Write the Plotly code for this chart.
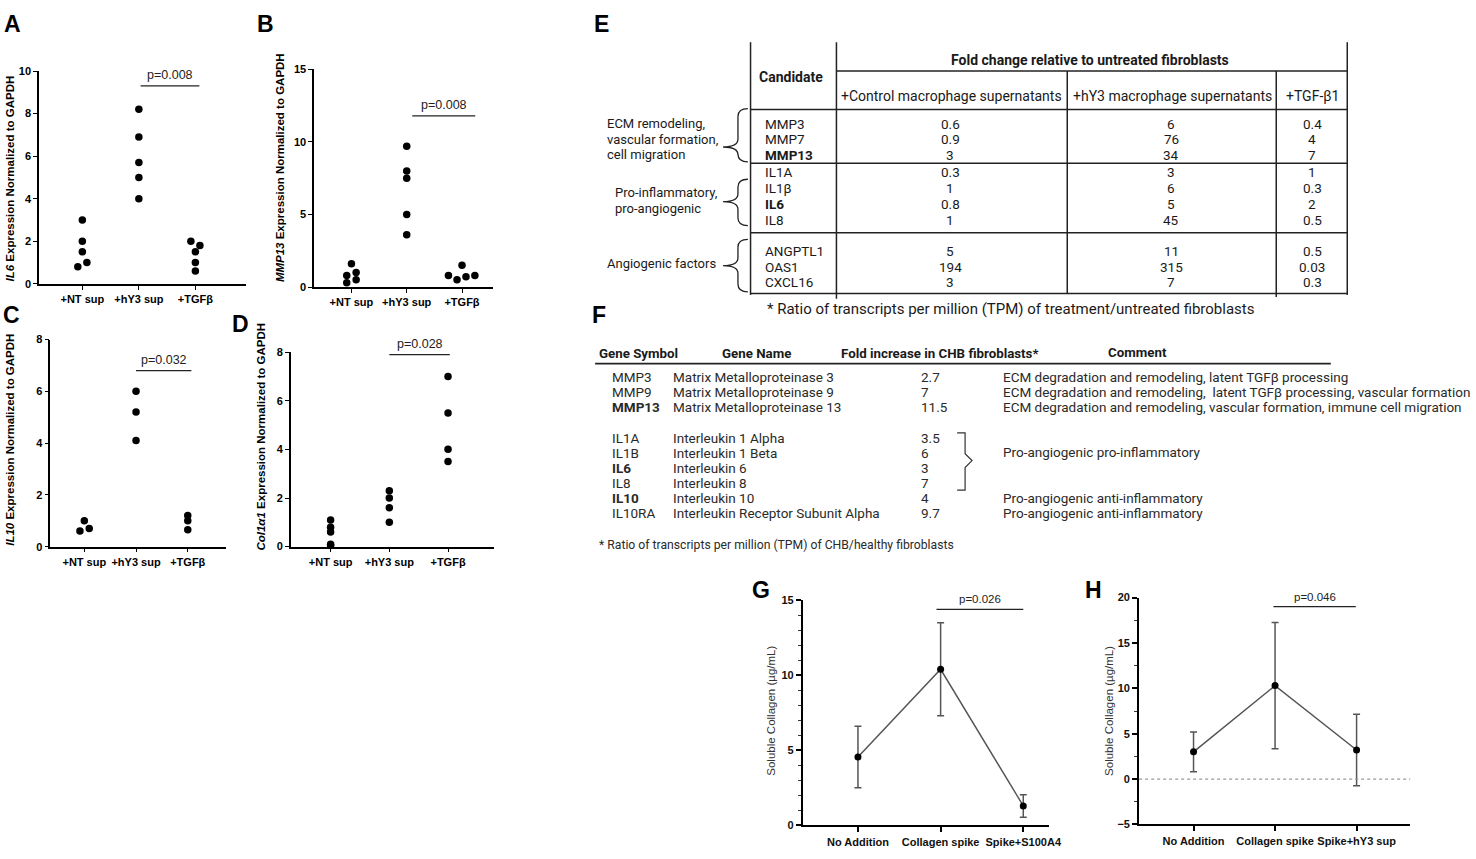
import plotly.graph_objects as go

W, H = 1476, 859

# ---------------- data ----------------
cats_expr = ["+NT sup", "+hY3 sup", "+TGFβ"]

il6_nt = [3.0, 2.0, 1.5, 1.0, 0.8]
il6_hy3 = [8.2, 6.9, 5.7, 5.0, 4.0]
il6_tgf = [2.0, 1.8, 1.5, 1.0, 0.6]

mmp13_nt = [1.6, 1.0, 0.8, 0.5, 0.3]
mmp13_hy3 = [9.7, 8.0, 7.5, 5.0, 3.6]
mmp13_tgf = [0.8, 0.5, 1.5, 0.7, 0.8]

il10_nt = [1.0, 0.6, 0.7]
il10_hy3 = [6.0, 5.2, 4.1]
il10_tgf = [1.2, 1.0, 0.65]

col_nt = [1.1, 0.8, 0.6, 0.1, 0.05]
col_hy3 = [2.3, 2.0, 1.6, 1.0]
col_tgf = [7.0, 5.5, 4.0, 3.5]

p_values = ["p=0.008", "p=0.008", "p=0.032", "p=0.028", "p=0.026", "p=0.046"]

cats_g = ["No Addition", "Collagen spike", "Spike+S100A4"]
g_mean = [4.55, 10.4, 1.3]
g_sd = [2.05, 3.1, 0.75]

cats_h = ["No Addition", "Collagen spike", "Spike+hY3 sup"]
h_mean = [3.0, 10.3, 3.2]
h_sd = [2.2, 6.95, 3.95]

e_candidates = ["MMP3", "MMP7", "MMP13", "IL1A", "IL1β", "IL6", "IL8", "ANGPTL1", "OAS1", "CXCL16"]
e_control = [0.6, 0.9, 3, 0.3, 1, 0.8, 1, 5, 194, 3]
e_hy3 = [6, 76, 34, 3, 6, 5, 45, 11, 315, 7]
e_tgf = [0.4, 4, 7, 1, 0.3, 2, 0.5, 0.5, 0.03, 0.3]
e_bold = ["MMP13", "IL6"]
e_headers = ["+Control macrophage supernatants", "+hY3 macrophage supernatants", "+TGF-β1"]

f_symbols = ["MMP3", "MMP9", "MMP13", "IL1A", "IL1B", "IL6", "IL8", "IL10", "IL10RA"]
f_names = ["Matrix Metalloproteinase 3", "Matrix Metalloproteinase 9", "Matrix Metalloproteinase 13",
           "Interleukin 1 Alpha", "Interleukin 1 Beta", "Interleukin 6", "Interleukin 8",
           "Interleukin 10", "Interleukin Receptor Subunit Alpha"]
f_fold = [2.7, 7, 11.5, 3.5, 6, 3, 7, 4, 9.7]
f_comments = ["ECM degradation and remodeling, latent TGFβ processing",
              "ECM degradation and remodeling,  latent TGFβ processing, vascular formation",
              "ECM degradation and remodeling, vascular formation, immune cell migration",
              "", "", "", "",
              "Pro-angiogenic anti-inflammatory", "Pro-angiogenic anti-inflammatory"]
f_group_comment = "Pro-angiogenic pro-inflammatory"
f_bold = ["MMP13", "IL6", "IL10"]

# ---------------- helpers ----------------
def px(x):
    return x / W

def py(y):
    return 1 - y / H

ARIAL = "Liberation Sans, Arial, sans-serif"
ROBOTO = "Roboto, sans-serif"

fig = go.Figure()
annotations = []
shapes = []

def text(x, y, s, size=12, family=ROBOTO, color="#1a1a1a", xanchor="left", weight="normal", angle=0):
    annotations.append(dict(x=px(x), y=py(y), xref="paper", yref="paper", text=s, showarrow=False,
                            xanchor=xanchor, yanchor="middle", textangle=angle,
                            font=dict(size=size, family=family, color=color, weight=weight)))

def pline(x0, y0, x1, y1, color="#222", width=1.5, dash="solid"):
    shapes.append(dict(type="line", xref="paper", yref="paper", x0=px(x0), y0=py(y0), x1=px(x1), y1=py(y1),
                       line=dict(color=color, width=width, dash=dash)))

# ---------------- scatter panels A-D ----------------
panels = [
    ("", [39.3, 248], [66, 281.7], [-0.767, 2.895], [0, 10], 2),
    ("2", [316.7, 497], [64.3, 285], [-0.675, 2.56], [0, 15], 5),
    ("3", [50.7, 228.3], [338.3, 548.3], [-0.658, 2.748], [0, 8], 2),
    ("4", [293.3, 498.3], [351, 548.3], [-0.676, 2.787], [0, 8], 2),
]
groups = [
    [il6_nt, il6_hy3, il6_tgf],
    [mmp13_nt, mmp13_hy3, mmp13_tgf],
    [il10_nt, il10_hy3, il10_tgf],
    [col_nt, col_hy3, col_tgf],
]
# horizontal jitter (style only)
jitters = [
    [[0, 0, 0, 0.08, -0.08], [0] * 5, [-0.08, 0.08, 0, 0, 0]],
    [[0, 0.085, -0.085, 0.085, -0.085], [0] * 5, [-0.245, -0.09, 0, 0.072, 0.233]],
    [[0, -0.085, 0.095], [0] * 3, [0, 0, 0]],
    [[0, 0, 0, 0, 0], [0] * 4, [0] * 4],
]
layout_axes = {}
for (sid, xd, yd, xr, yr, dt), grp, jit in zip(panels, groups, jitters):
    for ci, (vals, jj) in enumerate(zip(grp, jit)):
        fig.add_trace(go.Scatter(x=[ci + j for j in jj], y=vals, mode="markers",
                                 marker=dict(color="black", size=7.5), cliponaxis=False,
                                 xaxis="x" + sid, yaxis="y" + sid, showlegend=False, hoverinfo="skip"))
    layout_axes["xaxis" + sid] = dict(domain=[px(xd[0]), px(xd[1])], range=xr, anchor="y" + sid,
                                      tickvals=[0, 1, 2], ticktext=cats_expr, showline=True, linecolor="black",
                                      linewidth=1.5, ticks="outside", ticklen=4, tickwidth=1.2, tickcolor="black",
                                      showgrid=False, zeroline=False, fixedrange=True,
                                      tickfont=dict(family=ARIAL, size=11, color="black", weight="bold"))
    layout_axes["yaxis" + sid] = dict(domain=[py(yd[1]), py(yd[0])], range=yr, anchor="x" + sid,
                                      dtick=dt, showline=True, linecolor="black", linewidth=1.5,
                                      ticks="outside", ticklen=4, tickwidth=1.2, tickcolor="black",
                                      showgrid=False, zeroline=False, fixedrange=True,
                                      tickfont=dict(family=ARIAL, size=11, color="black", weight="bold"))

# p-value lines (in category/data units)
p_lines = [("", 1.03, 2.07, 9.3), ("2", 1.10, 2.24, 11.8), ("3", 1.0, 2.07, 6.8), ("4", 1.0, 2.03, 7.9),
           ("5", 0.95, 2.0, 14.4), ("6", 0.98, 1.99, 19.0)]
for (sid, x0, x1, yv), pv in zip(p_lines, p_values):
    shapes.append(dict(type="line", xref="x" + sid, yref="y" + sid, x0=x0, x1=x1, y0=yv, y1=yv,
                       line=dict(color="#222", width=1.2)))
    annotations.append(dict(x=(x0 + x1) / 2, y=yv, xref="x" + sid, yref="y" + sid, text=pv,
                            showarrow=False, yanchor="bottom", yshift=2,
                            font=dict(family=ARIAL, size=12.5 if sid in ("", "2", "3", "4") else 11.5,
                                      color="#222")))

# y titles A-D
for tx, ty, gene in [(10, 175, "IL6"), (281.7, 164, "MMP13"), (10, 440, "IL10"), (263.3, 436.5, "Col1α1")]:
    text(tx, ty, f"<i>{gene}</i> Expression Normalized to GAPDH", size=11.5, family=ARIAL, color="black",
         xanchor="center", weight="bold", angle=-90)

# ---------------- line panels G, H ----------------
gh = [
    ("5", [809.5, 1058], [602.7, 831], [-0.666, 2.316], [0, 15], 5, 1, cats_g, g_mean, g_sd),
    ("6", [1148.5, 1421.7], [600, 830], [-0.667, 2.657], [-5, 20], 5, 2.5, cats_h, h_mean, h_sd),
]
for sid, xd, yd, xr, yr, dt, mdt, cats, mean, sd in gh:
    fig.add_trace(go.Scatter(x=[0, 1, 2], y=mean, mode="lines+markers",
                             line=dict(color="#555", width=1.5),
                             marker=dict(color="black", size=7),
                             error_y=dict(type="data", array=sd, color="#555", thickness=1.5, width=3.5),
                             cliponaxis=False, xaxis="x" + sid, yaxis="y" + sid, showlegend=False,
                             hoverinfo="skip"))
    layout_axes["xaxis" + sid] = dict(domain=[px(xd[0]), px(xd[1])], range=xr, anchor="y" + sid,
                                      tickvals=[0, 1, 2], ticktext=cats, showline=True, linecolor="black",
                                      linewidth=2, ticks="outside", ticklen=5, tickwidth=1.5, tickcolor="black",
                                      showgrid=False, zeroline=False, fixedrange=True,
                                      tickfont=dict(family=ARIAL, size=11, color="#111", weight="bold"))
    layout_axes["yaxis" + sid] = dict(domain=[py(yd[1]), py(yd[0])], range=yr, anchor="x" + sid,
                                      dtick=dt, showline=True, linecolor="black", linewidth=2,
                                      ticks="outside", ticklen=5, tickwidth=1.5, tickcolor="black",
                                      minor=dict(dtick=mdt, ticks="outside", ticklen=3, tickwidth=1,
                                                 tickcolor="#333"),
                                      showgrid=False, zeroline=False, fixedrange=True,
                                      tickfont=dict(family=ARIAL, size=11, color="#111", weight="bold"))

shapes.append(dict(type="line", xref="x6 domain", yref="y6", x0=0, x1=1, y0=0, y1=0,
                   line=dict(color="#999", width=1.3, dash="dot")))
text(777, 715, "Soluble Collagen (µg/mL)", size=11.5, family=ARIAL, color="#333", xanchor="center", angle=-90)
text(1118, 715, "Soluble Collagen (µg/mL)", size=11.5, family=ARIAL, color="#333", xanchor="center", angle=-90)

# ---------------- panel letters ----------------
for lx, ly, s in [(13, 18, "A"), (268, 18, "B"), (12, 313, "C"), (242, 322, "D"), (606, 18, "E"),
                  (604, 313, "F"), (767, 592, "G"), (1102, 592, "H")]:
    text(lx, ly, s, size=23, family=ARIAL, color="black", xanchor="center", weight="bold")

# ---------------- table E ----------------
TC = "#1a1a1a"
pline(756.7, 36.7, 756.7, 293)
pline(843.3, 36.7, 843.3, 297)
pline(1076, 66, 1076, 291.5)
pline(1286.7, 66, 1286.7, 295)
pline(1358.3, 36.7, 1358.3, 293)
pline(843.3, 66, 1358.3, 66)
for yy in [105, 159.5, 230, 291.5]:
    pline(756.7, yy, 1358.3, yy)

text(797, 72, "Candidate", size=14, weight="bold", xanchor="center", color=TC)
text(1099, 55, "Fold change relative to untreated fibroblasts", size=14, weight="bold", xanchor="center", color=TC)
for cx, hdr in zip([959, 1182, 1323], e_headers):
    text(cx, 91.7, hdr, size=14, xanchor="center", color=TC)

e_rows_y = [119.3, 135, 150.7, 168.3, 184.5, 200.7, 216.7, 248.3, 264.3, 280]
for yy, cand, a, b, c in zip(e_rows_y, e_candidates, e_control, e_hy3, e_tgf):
    text(769, yy, cand, size=13.5, weight="bold" if cand in e_bold else "normal", color=TC)
    text(958, yy, f"{a:g}", size=13.5, xanchor="center", color=TC)
    text(1181, yy, f"{b:g}", size=13.5, xanchor="center", color=TC)
    text(1323, yy, f"{c:g}", size=13.5, xanchor="center", color=TC)

text(610, 119.3, "ECM remodeling,", size=13, color=TC)
text(610, 135, "vascular formation,", size=13, color=TC)
text(610, 150.7, "cell migration", size=13, color=TC)
text(618, 189.3, "Pro-inflammatory,", size=13, color=TC)
text(618, 205, "pro-angiogenic", size=13, color=TC)
text(610, 261.5, "Angiogenic factors", size=13, color=TC)
text(771, 307, "* Ratio of transcripts per million (TPM) of treatment/untreated fibroblasts", size=15, color=TC)


def brace(xr, xs, xt, yt, yb, ytip):
    r = min(xr - xs, 8)
    pts = (f"M {px(xr)},{py(yt)} Q {px(xs)},{py(yt)} {px(xs)},{py(yt + r)} "
           f"L {px(xs)},{py(ytip - r)} Q {px(xs)},{py(ytip)} {px(xt)},{py(ytip)} "
           f"Q {px(xs)},{py(ytip)} {px(xs)},{py(ytip + r)} "
           f"L {px(xs)},{py(yb - r)} Q {px(xs)},{py(yb)} {px(xr)},{py(yb)}")
    shapes.append(dict(type="path", xref="paper", yref="paper", path=pts, line=dict(color="#222", width=1.3)))


brace(754, 744, 729, 104, 158, 143)
brace(754, 744, 729, 175.7, 222.7, 198.3)
brace(754, 744, 729, 236.7, 290, 263.3)

# ---------------- table F ----------------
FC = "#2a2a2a"
FS = 13.5
text(601.7, 352.7, "Gene Symbol", size=13.3, weight="bold", color=TC)
text(763, 352.7, "Gene Name", size=13.3, weight="bold", xanchor="center", color=TC)
text(846, 352.7, "Fold increase in CHB fibroblasts*", size=13.3, weight="bold", color=TC)
text(1146.5, 351.7, "Comment", size=13.3, weight="bold", xanchor="center", color=TC)
pline(600, 362.7, 1341.7, 362.7, width=1.6)

f_rows_y = [376.7, 391.7, 406.7, 437.7, 453.3, 468.3, 483.3, 499.3, 514.3]
for yy, sym, nm, fo, cm in zip(f_rows_y, f_symbols, f_names, f_fold, f_comments):
    text(615, yy, sym, size=FS, weight="bold" if sym in f_bold else "normal", color=FC)
    text(676.7, yy, nm, size=FS, color=FC)
    text(926.7, yy, f"{fo:g}", size=FS, color=FC)
    if cm:
        text(1009.3, yy, cm, size=FS, color=FC)
text(1009.3, 452, f_group_comment, size=FS, color=FC)
shapes.append(dict(type="path", xref="paper", yref="paper",
                   path=(f"M {px(965)},{py(433)} L {px(973)},{py(433)} L {px(973)},{py(454)} "
                         f"L {px(980)},{py(461)} L {px(973)},{py(468)} L {px(973)},{py(491)} L {px(965)},{py(491)}"),
                   line=dict(color="#333", width=1.2)))
text(601.7, 546.7, "* Ratio of transcripts per million (TPM) of CHB/healthy fibroblasts", size=12.2, color=FC)

fig.update_layout(width=W, height=H, margin=dict(l=0, r=0, t=0, b=0), autosize=False,
                  paper_bgcolor="white", plot_bgcolor="white", showlegend=False,
                  annotations=annotations, shapes=shapes, **layout_axes)

fig.write_html("out.html", config={"displayModeBar": False},
               post_script="document.body.style.margin='0';document.body.style.overflow='hidden';")
